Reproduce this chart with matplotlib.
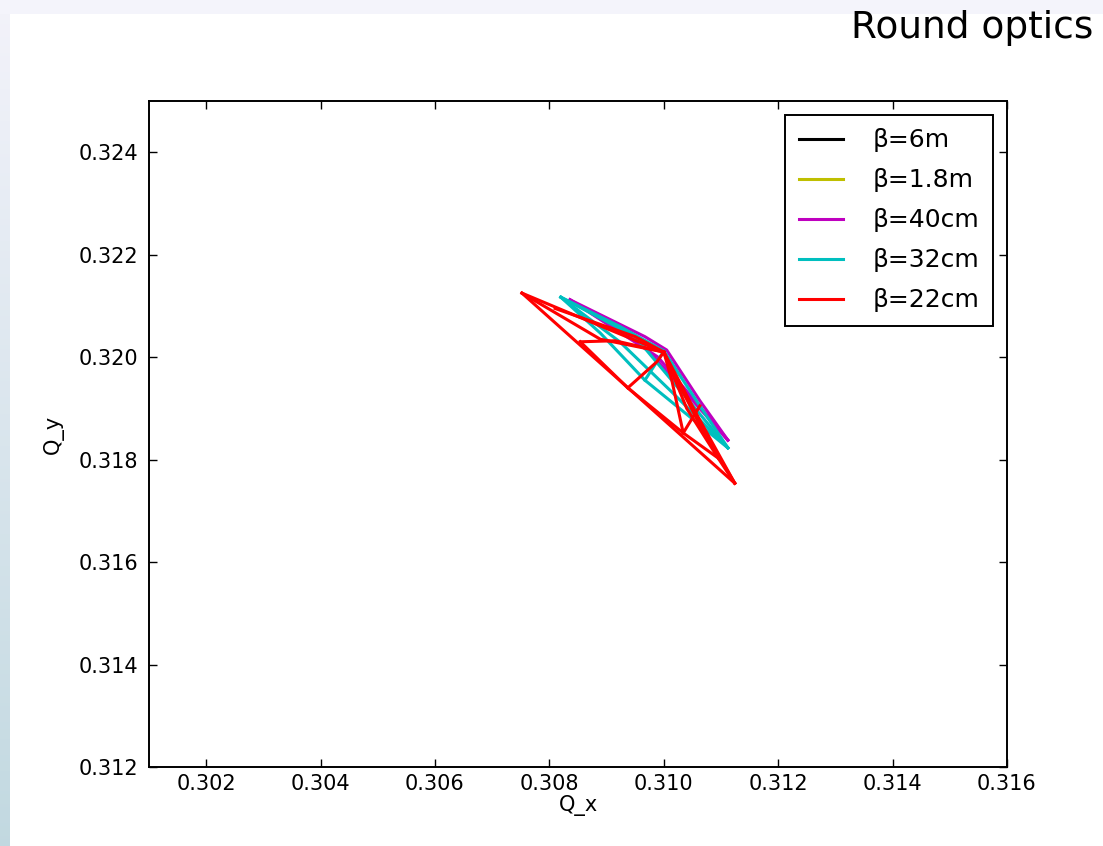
import numpy as np
import matplotlib
matplotlib.use("Agg")
import matplotlib.pyplot as plt

# tune footprints for the round-optics cases, one list of polylines per beta*
labels = ["β=6m", "β=1.8m", "β=40cm", "β=32cm", "β=22cm"]
colors = ["k", "y", "m", "c", "r"]

b600_qx = [[0.30960, 0.30985, 0.31000], [0.31000, 0.31012, 0.31020]]
b600_qy = [[0.32030, 0.32018, 0.32010], [0.32010, 0.31990, 0.31975]]

b180_qx = [[0.30940, 0.30975, 0.31000], [0.31000, 0.31015, 0.31028]]
b180_qy = [[0.32040, 0.32022, 0.32010], [0.32010, 0.31985, 0.31965]]

b40_qx = [[0.30836, 0.30967, 0.31005, 0.31063, 0.31112],
          [0.30836, 0.30967, 0.31112],
          [0.30836, 0.30990, 0.31112]]
b40_qy = [[0.32112, 0.32040, 0.32014, 0.31915, 0.31838],
          [0.32112, 0.32020, 0.31838],
          [0.32112, 0.32000, 0.31838]]

b32_qx = [[0.30820, 0.30923, 0.31000, 0.31063, 0.31112],
          [0.30820, 0.30889, 0.30967, 0.31112],
          [0.30820, 0.30923, 0.31014, 0.31112],
          [0.30820, 0.30950, 0.31040, 0.31112],
          [0.31000, 0.30967]]
b32_qy = [[0.32117, 0.32060, 0.32012, 0.31905, 0.31823],
          [0.32117, 0.32047, 0.31955, 0.31823],
          [0.32117, 0.32030, 0.31932, 0.31823],
          [0.32117, 0.32040, 0.31920, 0.31823],
          [0.32012, 0.31955]]

b22_qx = [[0.30752, 0.31124],
          [0.30752, 0.30889, 0.31000],
          [0.31000, 0.31028, 0.31063, 0.31124],
          [0.30752, 0.30889, 0.31000],
          [0.30810, 0.30950, 0.31000],
          [0.30854, 0.30915, 0.31000],
          [0.30854, 0.30937, 0.31034, 0.31095, 0.31124],
          [0.30937, 0.30988, 0.31000],
          [0.31034, 0.31014, 0.31000],
          [0.31034, 0.31063],
          [0.31000, 0.31040, 0.31095],
          [0.31000, 0.31063, 0.31124]]
b22_qy = [[0.32125, 0.31754],
          [0.32125, 0.32061, 0.32010],
          [0.32010, 0.31944, 0.31868, 0.31754],
          [0.32125, 0.32035, 0.32010],
          [0.32095, 0.32040, 0.32010],
          [0.32030, 0.32032, 0.32010],
          [0.32030, 0.31940, 0.31852, 0.31803, 0.31754],
          [0.31940, 0.31991, 0.32010],
          [0.31852, 0.31955, 0.32010],
          [0.31852, 0.31905],
          [0.32010, 0.31900, 0.31803],
          [0.32010, 0.31877, 0.31754]]

all_qx = [b600_qx, b180_qx, b40_qx, b32_qx, b22_qx]
all_qy = [b600_qy, b180_qy, b40_qy, b32_qy, b22_qy]

fig = plt.figure(figsize=(11.03, 8.46), dpi=100, facecolor="white")

# slide background: pale band on top, gradient strip on the left
bg = fig.add_axes([0, 0, 1, 1])
bg.axis("off")
bg.add_patch(plt.Rectangle((0, 0), 1103, 14, color=(0.955, 0.955, 0.985), lw=0))
grad = np.linspace(0, 1, 256).reshape(-1, 1)
top_c = np.array([0.95, 0.95, 0.98])
bot_c = np.array([0.76, 0.85, 0.88])
strip = top_c + grad[..., None] * (bot_c - top_c)
bg.imshow(strip, extent=[0, 10, 846, 14], aspect="auto")
bg.set_xlim(0, 1103)
bg.set_ylim(846, 0)

fig.text(1093 / 1103, 1 - 10 / 846, "Round optics", ha="right", va="top",
         fontsize=27, family="DejaVu Sans", color="black")

ax = fig.add_axes([149 / 1103, 1 - 767 / 846, 858 / 1103, 666 / 846])
for qx, qy, c, lab in zip(all_qx, all_qy, colors, labels):
    for i in range(len(qx)):
        ax.plot(qx[i], qy[i], color=c, lw=2.2, label=lab if i == 0 else None)

ax.set_xlim(0.301, 0.316)
ax.set_ylim(0.312, 0.325)
ax.set_xticks(np.arange(0.302, 0.3165, 0.002))
ax.set_yticks(np.arange(0.312, 0.3245, 0.002))
ax.xaxis.set_major_formatter(matplotlib.ticker.FormatStrFormatter("%.3f"))
ax.yaxis.set_major_formatter(matplotlib.ticker.FormatStrFormatter("%.3f"))
ax.tick_params(direction="in", top=True, right=True, length=6, width=1,
               labelsize=15)
ax.tick_params(axis="x", pad=5)
ax.tick_params(axis="y", pad=8)
for s in ax.spines.values():
    s.set_linewidth(1.4)
ax.set_xlabel("Q_x", fontsize=15, labelpad=1)
ax.set_ylabel("Q_y", fontsize=15, labelpad=10)

leg = ax.legend(loc="upper right", fontsize=18, fancybox=False, framealpha=1,
                edgecolor="black", handlelength=1.75, handletextpad=1.2,
                labelspacing=0.64, borderpad=0.55, borderaxespad=0.55)
leg.get_frame().set_linewidth(1.4)

fig.savefig("out.png", dpi=100, facecolor="white")
